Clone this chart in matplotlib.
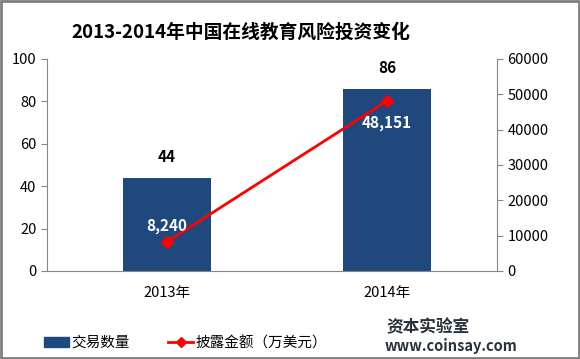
import matplotlib
matplotlib.use("Agg")
import matplotlib.pyplot as plt
from matplotlib.patches import Rectangle
from matplotlib.lines import Line2D

plt.rcParams["font.family"] = ["Noto Sans CJK SC", "DejaVu Sans"]

years = ["2013年", "2014年"]
deals = [44, 86]
amount = [8240, 48151]
amount_labels = ["8,240", "48,151"]

BLUE = "#1F497D"
RED = "#FF0000"
GRAY = "#868686"

fig = plt.figure(figsize=(5.8, 3.59), dpi=100)
ax = fig.add_axes([47 / 580, 1 - 271 / 359, 450 / 580, 212 / 359])
ax2 = ax.twinx()

x = list(range(len(years)))
ax.bar(x, deals, width=0.4, color=BLUE, zorder=2)
for xi, v in zip(x, deals):
    ax.text(xi, v + 6, str(v), ha="center", va="bottom", fontsize=11,
            fontweight="bold", color="black")

ax2.plot(x, amount, color=RED, lw=2, marker="D", ms=6, zorder=3)
ax2.text(x[0], amount[0] + 2200, amount_labels[0], ha="center", va="bottom",
         fontsize=11, fontweight="bold", color="white")
ax2.text(x[1], amount[1] - 4000, amount_labels[1], ha="center", va="top",
         fontsize=11, fontweight="bold", color="white")

ax.set_xlim(-0.545, 1.5)
ax.set_ylim(0, 100)
ax2.set_ylim(0, 60000)
ax.set_yticks(range(0, 101, 20))
ax2.set_yticks(range(0, 60001, 10000))
ax.set_xticks(x)
ax.set_xticklabels(years)

ax.set_zorder(ax2.get_zorder() - 1)
ax.patch.set_visible(True)
ax2.patch.set_visible(False)

for a in (ax, ax2):
    a.spines["top"].set_visible(False)
    for s in a.spines.values():
        s.set_color(GRAY)
    a.tick_params(colors=GRAY, labelcolor="black", labelsize=10.5, length=4)
ax.spines["right"].set_visible(False)
ax2.spines["left"].set_visible(False)
ax2.spines["bottom"].set_visible(False)
ax.tick_params(axis="x", length=0, pad=11)

fig.text(241 / 580, 1 - 32 / 359, "2013-2014年中国在线教育风险投资变化",
         ha="center", va="center", fontsize=13.5, fontweight="bold")

handles = [Rectangle((0, 0), 1, 1, color=BLUE),
           Line2D([], [], color=RED, lw=2, marker="D", ms=5)]
fig.legend(handles, ["交易数量", "披露金额（万美元）"], loc="center left",
           bbox_to_anchor=(44 / 580, 1 - 343 / 359), ncol=2, frameon=False,
           fontsize=10.5, handlelength=1.7, handletextpad=0.2, columnspacing=2.6,
           borderpad=0, borderaxespad=0)

fig.text(428 / 580, 1 - 327 / 359, "资本实验室", ha="center", va="center",
         fontsize=12, fontweight="bold", color="#27323D")
fig.text(451 / 580, 1 - 346 / 359, "www.coinsay.com", ha="center", va="center",
         fontsize=10.5, fontweight="bold", color="#27323D")

fig.patches.append(Rectangle((0.002, 0.003), 0.996, 0.994, transform=fig.transFigure,
                             fill=False, edgecolor="#7F7F7F", lw=2))

fig.savefig("out.png", dpi=100)
